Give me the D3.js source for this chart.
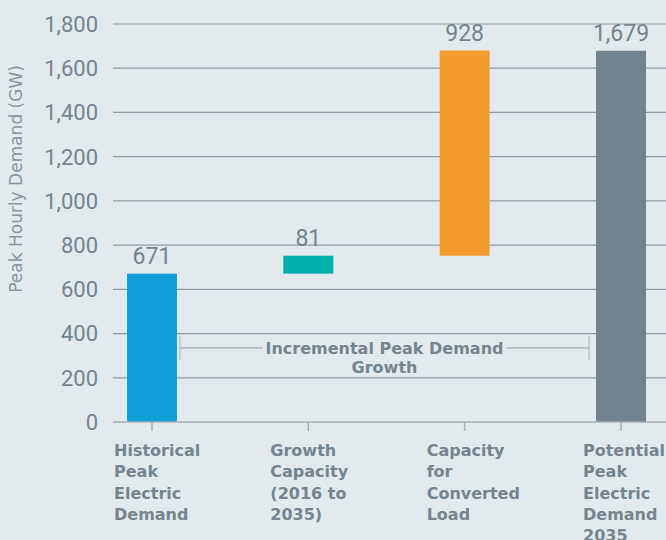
<!DOCTYPE html>
<html>
<head>
<meta charset="utf-8">
<script src="https://cdn.jsdelivr.net/npm/d3@7"></script>
<style>
    html, body { margin: 0; padding: 0; background: #e3eaed; }
    svg { display: block; }
</style>
</head>
<body>
<svg id="chart"></svg>
<script>
// chart data
const categories = ["Historical", "Growth", "Capacity", "Potential"];
const labelLines = [
    ["Historical", "Peak", "Electric", "Demand"],
    ["Growth", "Capacity", "(2016 to", "2035)"],
    ["Capacity", "for", "Converted", "Load"],
    ["Potential", "Peak", "Electric", "Demand", "2035"]
];
const values = [671, 81, 928, 1679];
const kinds = ["total", "step", "step", "total"];
const colors = ["#12a0dc", "#00b0aa", "#f49b30", "#72838d"];
const yTicks = [0, 200, 400, 600, 800, 1000, 1200, 1400, 1600, 1800];
const bracketLines = ["Incremental Peak Demand", "Growth"];

const width = 666;
const height = 540;
const textColor = "#75848d";
const numFont = "Roboto, 'DejaVu Sans', sans-serif";

const svg = d3.select("#chart").attr("width", width).attr("height", height);

const x = d3.scalePoint().domain(categories).range([152, 621]);
const y = d3.scaleLinear().domain([0, 1800]).range([422, 24]);
const barW = 50;

// waterfall start/end for each bar
let running = 0;
const bars = categories.map((c, i) => {
    let lo, hi;
    if (kinds[i] === "total") {
        lo = 0;
        hi = values[i];
        running = values[i];
    } else {
        lo = running;
        hi = running + values[i];
        running = hi;
    }
    return {cat: c, lo, hi, value: values[i], color: colors[i]};
});

// gridlines
svg.append("g")
    .selectAll("line")
    .data(yTicks.filter((d) => d > 0))
    .enter()
    .append("line")
    .attr("x1", 113)
    .attr("x2", width)
    .attr("y1", (d) => y(d))
    .attr("y2", (d) => y(d))
    .style("stroke", "#8e9ba2")
    .style("stroke-width", "1.2px");

// y tick labels
svg.append("g")
    .selectAll("text")
    .data(yTicks)
    .enter()
    .append("text")
    .attr("x", 98)
    .attr("y", (d) => y(d))
    .attr("dy", "0.36em")
    .attr("text-anchor", "end")
    .style("font-family", numFont)
    .style("font-size", "22px")
    .style("fill", textColor)
    .text(d3.format(","));

// y axis title
svg.append("text")
    .attr("transform", "translate(22,179) rotate(-90)")
    .attr("text-anchor", "middle")
    .style("font-family", "'DejaVu Sans', sans-serif")
    .style("font-size", "17px")
    .style("fill", "#8796a0")
    .text("Peak Hourly Demand (GW)");

// bars
svg.append("g")
    .selectAll("rect")
    .data(bars)
    .enter()
    .append("rect")
    .attr("x", (d) => x(d.cat) - barW / 2)
    .attr("width", barW)
    .attr("y", (d) => y(d.hi))
    .attr("height", (d) => y(d.lo) - y(d.hi))
    .style("fill", (d) => d.color);

// value labels
svg.append("g")
    .selectAll("text")
    .data(bars)
    .enter()
    .append("text")
    .attr("x", (d) => x(d.cat))
    .attr("y", (d) => y(d.hi) - 10)
    .attr("text-anchor", "middle")
    .style("font-family", numFont)
    .style("font-size", "23px")
    .style("fill", textColor)
    .text((d) => d3.format(",")(d.value));

// baseline + ticks
svg.append("line")
    .attr("x1", 113)
    .attr("x2", width)
    .attr("y1", y(0))
    .attr("y2", y(0))
    .style("stroke", "#a6b0b5")
    .style("stroke-width", "1.5px");

svg.append("g")
    .selectAll("line")
    .data(categories)
    .enter()
    .append("line")
    .attr("x1", (d) => x(d))
    .attr("x2", (d) => x(d))
    .attr("y1", y(0))
    .attr("y2", y(0) + 9)
    .style("stroke", "#a6b0b5")
    .style("stroke-width", "1.5px");

// category labels
const catLabel = svg.append("g")
    .selectAll("text")
    .data(categories)
    .enter()
    .append("text")
    .attr("x", (d) => x(d) - 38)
    .attr("y", 456)
    .style("font-family", "'DejaVu Sans', sans-serif")
    .style("font-size", "16px")
    .style("font-weight", "bold")
    .style("fill", textColor);

catLabel.selectAll("tspan")
    .data((d, i) => labelLines[i])
    .enter()
    .append("tspan")
    .attr("x", function () { return d3.select(this.parentNode).attr("x"); })
    .attr("dy", (d, i) => (i === 0 ? 0 : 21.3))
    .text((d) => d);

// bracket for incremental growth
const bx1 = x(categories[0]) + barW / 2 + 3;
const bx2 = x(categories[3]) - barW / 2 - 7;
const by = y(335);
const bracket = svg.append("g");
const bracketText = bracket.append("text")
    .attr("text-anchor", "middle")
    .style("font-family", "'DejaVu Sans', sans-serif")
    .style("font-size", "16px")
    .style("font-weight", "bold")
    .style("fill", textColor);
bracketText.selectAll("tspan")
    .data(bracketLines)
    .enter()
    .append("tspan")
    .attr("x", (bx1 + bx2) / 2)
    .attr("y", (d, i) => by + 6 + i * 19)
    .text((d) => d);

const tw = bracketText.select("tspan").node().getComputedTextLength();
const mid = (bx1 + bx2) / 2;
bracket.append("line")
    .attr("x1", bx1).attr("x2", mid - tw / 2 - 3)
    .attr("y1", by).attr("y2", by)
    .style("stroke", "#8e9ba2").style("stroke-width", "1px");
bracket.append("line")
    .attr("x1", mid + tw / 2 + 3).attr("x2", bx2)
    .attr("y1", by).attr("y2", by)
    .style("stroke", "#8e9ba2").style("stroke-width", "1px");
[bx1, bx2].forEach((bx) => {
    bracket.append("line")
        .attr("x1", bx).attr("x2", bx)
        .attr("y1", by - 12).attr("y2", by + 12)
        .style("stroke", "#a6b0b5").style("stroke-width", "1px");
});
</script>
</body>
</html>
